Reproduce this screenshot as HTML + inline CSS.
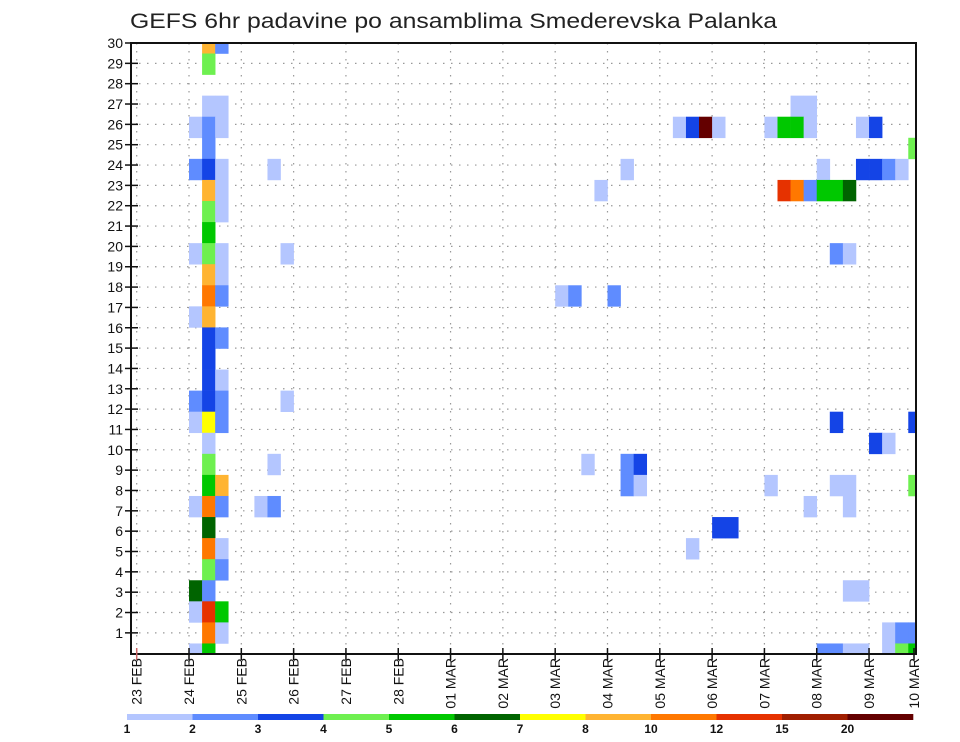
<!DOCTYPE html>
<html><head><meta charset="utf-8">
<style>
html,body{margin:0;padding:0;background:#fff;}
svg{display:block;font-family:"Liberation Sans",sans-serif;}
</style></head>
<body>
<svg id="chart" width="960" height="742" viewBox="0 0 960 742" xmlns="http://www.w3.org/2000/svg">
<text x="130" y="28" font-size="21" textLength="647" lengthAdjust="spacingAndGlyphs" fill="#222">GEFS 6hr padavine po ansamblima Smederevska Palanka</text>
<defs><clipPath id="plotclip"><rect x="131" y="43" width="785" height="611"/></clipPath></defs>
<g id="grid"></g>
<g id="cells" clip-path="url(#plotclip)"></g>
<rect x="131" y="43" width="785" height="611" fill="none" stroke="#111" stroke-width="2"/>
<g id="axes"></g>
<g id="legend"></g>
</svg>
<script>
// 6-hour step index from 23 FEB 00z
const timeIdx = [
 5,6, 5, 5,6, 4,5,6, 5, 4,5,6,10, 5,6, 5,6, 5, 4,5,6,11, 5,6, 5,6, 4,5, 5,6, 5, 5,6, 4,5,6,11, 4,5,6, 5, 5,10, 5,6, 4,5,6,9,10, 5, 5,6, 5,6, 4,5, 4,5,6, 5,6, 4,5,
 50,51, 41,42,43,44,48,49,50,51,55,56, 59, 37,52,55,56,57,58, 35,49,50,51,52,53,54, 53,54, 32,33,36,
 53,59, 56,57, 34,37,38, 37,38,48,53,54,59, 51,54, 44,45, 42, 54,55, 57,58,59, 52,53,54,55,57,58,59];
// ensemble member row index
const memberIdx = [
 29,29, 28, 26,26, 25,25,25, 24, 23,23,23,23, 22,22, 21,21, 20, 19,19,19,19, 18,18, 17,17, 16,16, 15,15, 14, 13,13, 12,12,12,12, 11,11,11, 10, 9,9, 8,8, 7,7,7,7,7, 6, 5,5, 4,4, 3,3, 2,2,2, 1,1, 0,0,
 26,26, 25,25,25,25,25,25,25,25,25,25, 24, 23,23,23,23,23,23, 22,22,22,22,22,22,22, 19,19, 17,17,17,
 11,11, 10,10, 9,9,9, 8,8,8,8,8,8, 7,7, 6,6, 5, 3,3, 1,1,1, 0,0,0,0,0,0,0];
// colour class (1..12)
const levels = [
 8,2, 4, 1,1, 1,2,1, 2, 2,3,1,1, 8,1, 4,1, 5, 1,4,1,1, 8,1, 9,2, 1,8, 3,2, 3, 3,1, 2,3,2,1, 1,7,2, 1, 4,1, 5,8, 1,9,2,1,2, 6, 9,1, 4,2, 6,2, 1,10,5, 9,1, 1,5,
 1,1, 1,3,12,1,1,5,5,1,1,3, 4, 1,1,3,3,2,1, 1,10,9,2,5,5,6, 2,1, 1,2,2,
 3,3, 3,1, 1,2,3, 2,1,1,1,1,4, 1,1, 3,3, 1, 1,1, 1,2,2, 2,2,1,1,1,4,5];
const dayLabels = ["23 FEB","24 FEB","25 FEB","26 FEB","27 FEB","28 FEB","01 MAR","02 MAR","03 MAR","04 MAR","05 MAR","06 MAR","07 MAR","08 MAR","09 MAR","10 MAR"];
const yTickLabels = [1,2,3,4,5,6,7,8,9,10,11,12,13,14,15,16,17,18,19,20,21,22,23,24,25,26,27,28,29,30];
const legendLabels = ["1","2","3","4","5","6","7","8","10","12","15","20"];
const palette = ["#b4c6ff","#5f8cff","#1444e6","#6ef050","#00c800","#006400","#ffff00","#ffb432","#ff7800","#e63200","#a01e00","#640000"];

const NS="http://www.w3.org/2000/svg";
const X0=136.7, DAY=52.31, STEP=DAY/4;
const ROWH=21.07, YB=654;
function xStep(i){return X0+i*STEP;}
function xDay(d){return X0+d*DAY;}
function yRow(r){return YB-r*ROWH;}
function yTick(k){return 43+(30-k)*20.34;}
function mk(tag,attrs,parent){const e=document.createElementNS(NS,tag);for(const k in attrs)e.setAttribute(k,attrs[k]);parent.appendChild(e);return e;}

const grid=document.getElementById('grid');
for(let k=1;k<=29;k++){
  const ln=mk('line',{x1:131,x2:916,y1:yTick(k),y2:yTick(k),stroke:'#999','stroke-width':1.2,'stroke-dasharray':'1.5 6.5'},grid);
  
  
}
for(let d=0;d<dayLabels.length;d++){
  const x=xDay(d); if(x>915)continue;
  const ln=mk('line',{x1:x,x2:x,y1:43,y2:654,stroke:'#999','stroke-width':1.2,'stroke-dasharray':'1.5 6.5'},grid);
  
  
}

const cells=document.getElementById('cells');
for(let n=0;n<levels.length;n++){
  const r=mk('rect',{x:xStep(timeIdx[n]),y:yRow(memberIdx[n])-ROWH/2,width:STEP+0.3,height:ROWH+0.3,fill:palette[levels[n]-1]},cells);
  
  
}

const axes=document.getElementById('axes');
for(let k=0;k<yTickLabels.length;k++){
  const v=yTickLabels[k], y=yTick(v);
  const t=mk('line',{x1:125,x2:138,y1:y,y2:y,stroke:'#111','stroke-width':1.5},axes);
  
  
  const tx=mk('text',{x:123,y:y+5,'font-size':14,'text-anchor':'end',fill:'#111'},axes);
  tx.textContent=v;
  
  
}
for(let d=0;d<dayLabels.length;d++){
  let x=xDay(d); if(x>916)x=914;
  const t=mk('line',{x1:x,x2:x,y1:648,y2:660,stroke:d===0?'#c66':'#111','stroke-width':1.5},axes);
  
  
  const tx=mk('text',{x:0,y:0,'font-size':14,'text-anchor':'end',fill:'#111',transform:`translate(${x+5},658) rotate(-90)`},axes);
  tx.textContent=dayLabels[d];
  
  
}

const leg=document.getElementById('legend');
const LX=127, LW=65.5;
for(let c=0;c<palette.length;c++){
  const r=mk('rect',{x:LX+c*LW,y:714,width:LW+0.3,height:6,fill:palette[c]},leg);
  
  
  const tx=mk('text',{x:LX+c*LW,y:733,'font-size':12,'font-weight':'bold','text-anchor':'middle',fill:'#111'},leg);
  tx.textContent=legendLabels[c];
  
  
}
</script>
</body></html>
